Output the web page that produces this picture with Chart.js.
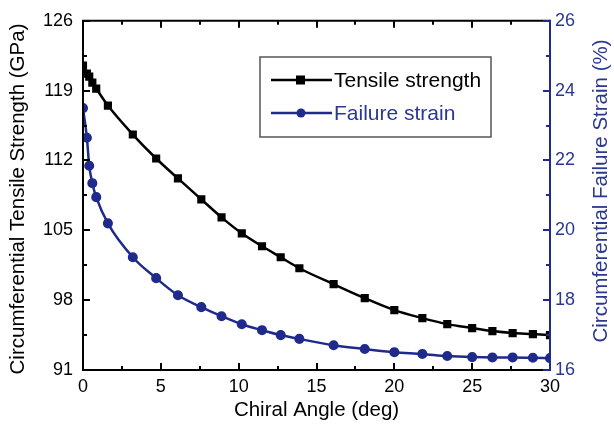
<!DOCTYPE html>
<html>
<head>
<meta charset="utf-8">
<script src="https://cdn.jsdelivr.net/npm/chart.js@4.4.1/dist/chart.umd.min.js"></script>
<style>
html,body{margin:0;padding:0;background:#fff;}
#wrap{width:614px;height:425px;}
</style>
</head>
<body>
<div id="wrap"><canvas id="c" width="614" height="425"></canvas></div>
<script>
const chiralAngle = [0, 0.25, 0.4, 0.6, 0.85, 1.6, 3.2, 4.7, 6.1, 7.6, 8.9, 10.2, 11.5, 12.7, 13.9, 16.1, 18.1, 20.0, 21.8, 23.4, 25.0, 26.3, 27.6, 28.9, 30.0];
const tensileStrength = [121.5, 120.7, 120.4, 119.8, 119.2, 117.5, 114.6, 112.2, 110.2, 108.1, 106.3, 104.7, 103.4, 102.3, 101.2, 99.6, 98.2, 97.0, 96.2, 95.6, 95.2, 94.9, 94.7, 94.6, 94.5];
const failureStrain = [23.5, 22.65, 21.85, 21.35, 20.95, 20.2, 19.23, 18.63, 18.14, 17.8, 17.54, 17.31, 17.14, 17.0, 16.89, 16.71, 16.6, 16.51, 16.46, 16.4, 16.37, 16.36, 16.36, 16.35, 16.34];
const xTicks = [0, 5, 10, 15, 20, 25, 30];
const leftTicks = [91, 98, 105, 112, 119, 126];
const rightTicks = [16, 18, 20, 22, 24, 26];
const xTitle = 'Chiral Angle (deg)';
const leftTitle = 'Circumferential Tensile Strength (GPa)';
const rightTitle = 'Circumferential Failure Strain (%)';

const BLUE = '#1f2a8c';
const BLUE_TXT = '#2a3890';
const FONT = 'Liberation Sans, Arial, Helvetica, sans-serif';

const frameTicks = {
  id: 'frameTicks',
  afterDraw(chart) {
    const {ctx, chartArea: a, scales} = chart;
    const x = scales.x, y = scales.y, y2 = scales.y2;
    ctx.save();
    ctx.lineCap = 'butt';
    ctx.strokeStyle = '#000';
    ctx.lineWidth = 2;
    for (let i = 0; i < xTicks.length; i++) {
      const px = Math.round(x.getPixelForValue(xTicks[i]));
      ctx.beginPath(); ctx.moveTo(px, a.bottom); ctx.lineTo(px, a.bottom - 7); ctx.stroke();
      ctx.beginPath(); ctx.moveTo(px, a.top); ctx.lineTo(px, a.top + 7); ctx.stroke();
      if (i < xTicks.length - 1) {
        const pm = Math.round(x.getPixelForValue((xTicks[i] + xTicks[i + 1]) / 2));
        ctx.beginPath(); ctx.moveTo(pm, a.bottom); ctx.lineTo(pm, a.bottom - 4); ctx.stroke();
        ctx.beginPath(); ctx.moveTo(pm, a.top); ctx.lineTo(pm, a.top + 4); ctx.stroke();
      }
    }
    for (let i = 0; i < leftTicks.length; i++) {
      const py = Math.round(y.getPixelForValue(leftTicks[i]));
      ctx.beginPath(); ctx.moveTo(a.left, py); ctx.lineTo(a.left + 7, py); ctx.stroke();
      if (i < leftTicks.length - 1) {
        const pm = Math.round(y.getPixelForValue((leftTicks[i] + leftTicks[i + 1]) / 2));
        ctx.beginPath(); ctx.moveTo(a.left, pm); ctx.lineTo(a.left + 4, pm); ctx.stroke();
      }
    }
    ctx.beginPath();
    ctx.moveTo(a.right, a.top); ctx.lineTo(a.left, a.top); ctx.lineTo(a.left, a.bottom); ctx.lineTo(a.right, a.bottom);
    ctx.stroke();
    ctx.strokeStyle = BLUE;
    for (let i = 0; i < rightTicks.length; i++) {
      const py = Math.round(y2.getPixelForValue(rightTicks[i]));
      ctx.beginPath(); ctx.moveTo(a.right, py); ctx.lineTo(a.right - 7, py); ctx.stroke();
      if (i < rightTicks.length - 1) {
        const pm = Math.round(y2.getPixelForValue((rightTicks[i] + rightTicks[i + 1]) / 2));
        ctx.beginPath(); ctx.moveTo(a.right, pm); ctx.lineTo(a.right - 4, pm); ctx.stroke();
      }
    }
    ctx.beginPath(); ctx.moveTo(a.right, a.top - 1); ctx.lineTo(a.right, a.bottom + 1); ctx.stroke();

    // axis titles
    ctx.textAlign = 'center';
    ctx.textBaseline = 'middle';
    ctx.font = '20.5px ' + FONT;
    ctx.fillStyle = '#000';
    ctx.fillText(xTitle, (a.left + a.right) / 2, 410);
    ctx.save();
    ctx.translate(18, 199); ctx.rotate(-Math.PI / 2);
    ctx.fillText(leftTitle, 0, 0);
    ctx.restore();
    ctx.save();
    ctx.fillStyle = BLUE_TXT;
    ctx.translate(601, 191); ctx.rotate(-Math.PI / 2);
    ctx.fillText(rightTitle, 0, 0);
    ctx.restore();

    // legend box
    const bx = 260, by = 57, bw = 231, bh = 80;
    ctx.strokeStyle = '#555';
    ctx.lineWidth = 1.5;
    ctx.strokeRect(bx, by, bw, bh);
    const rows = [
      {ds: chart.data.datasets[0], y: by + 23, color: '#000', txt: '#000', style: 'rect'},
      {ds: chart.data.datasets[1], y: by + 56, color: BLUE, txt: BLUE_TXT, style: 'circle'}
    ];
    ctx.font = '21px ' + FONT;
    ctx.textAlign = 'left';
    ctx.textBaseline = 'middle';
    rows.forEach(r => {
      ctx.strokeStyle = r.color; ctx.lineWidth = 2.5;
      ctx.beginPath(); ctx.moveTo(271, r.y); ctx.lineTo(332, r.y); ctx.stroke();
      ctx.fillStyle = r.color;
      if (r.style === 'rect') ctx.fillRect(296, r.y - 4.5, 9, 9);
      else { ctx.beginPath(); ctx.arc(301, r.y, 4.5, 0, Math.PI * 2); ctx.fill(); }
      ctx.fillStyle = r.txt;
      ctx.fillText(r.ds.label, 334, r.y + 1);
    });
    ctx.restore();
  }
};

new Chart(document.getElementById('c'), {
  type: 'line',
  data: {
    datasets: [
      {
        label: 'Tensile strength',
        data: chiralAngle.map((v, i) => ({x: v, y: tensileStrength[i]})),
        yAxisID: 'y',
        borderColor: '#000',
        backgroundColor: '#000',
        borderWidth: 2.5,
        pointStyle: 'rect',
        pointRadius: 4,
        pointHoverRadius: 4,
        cubicInterpolationMode: 'monotone',
        fill: false
      },
      {
        label: 'Failure strain',
        data: chiralAngle.map((v, i) => ({x: v, y: failureStrain[i]})),
        yAxisID: 'y2',
        borderColor: BLUE,
        backgroundColor: BLUE,
        borderWidth: 2.5,
        pointStyle: 'circle',
        pointRadius: 3.8,
        pointHoverRadius: 3.8,
        cubicInterpolationMode: 'monotone',
        fill: false
      }
    ]
  },
  options: {
    responsive: false,
    animation: false,
    devicePixelRatio: 1,
    layout: {padding: {top: 20, left: 0, right: 0, bottom: 0}},
    plugins: {legend: {display: false}, tooltip: {enabled: false}},
    scales: {
      x: {
        type: 'linear', min: 0, max: 30,
        afterBuildTicks: s => { s.ticks = xTicks.map(v => ({value: v})); },
        afterFit: s => { s.height = 55; },
        grid: {display: false, drawTicks: false},
        border: {display: false},
        ticks: {color: '#000', font: {family: FONT, size: 18}, padding: 6, maxRotation: 0},
        title: {display: false}
      },
      y: {
        type: 'linear', position: 'left', min: 91, max: 126,
        afterBuildTicks: s => { s.ticks = leftTicks.map(v => ({value: v})); },
        afterFit: s => { s.width = 83; },
        grid: {display: false, drawTicks: false},
        border: {display: false},
        ticks: {color: '#000', font: {family: FONT, size: 18}, padding: 10},
        title: {display: false}
      },
      y2: {
        type: 'linear', position: 'right', min: 16, max: 26,
        afterBuildTicks: s => { s.ticks = rightTicks.map(v => ({value: v})); },
        afterFit: s => { s.width = 64; },
        grid: {display: false, drawTicks: false},
        border: {display: false},
        ticks: {color: BLUE_TXT, font: {family: FONT, size: 18}, padding: 5},
        title: {display: false}
      }
    }
  },
  plugins: [frameTicks]
});
</script>
</body>
</html>
